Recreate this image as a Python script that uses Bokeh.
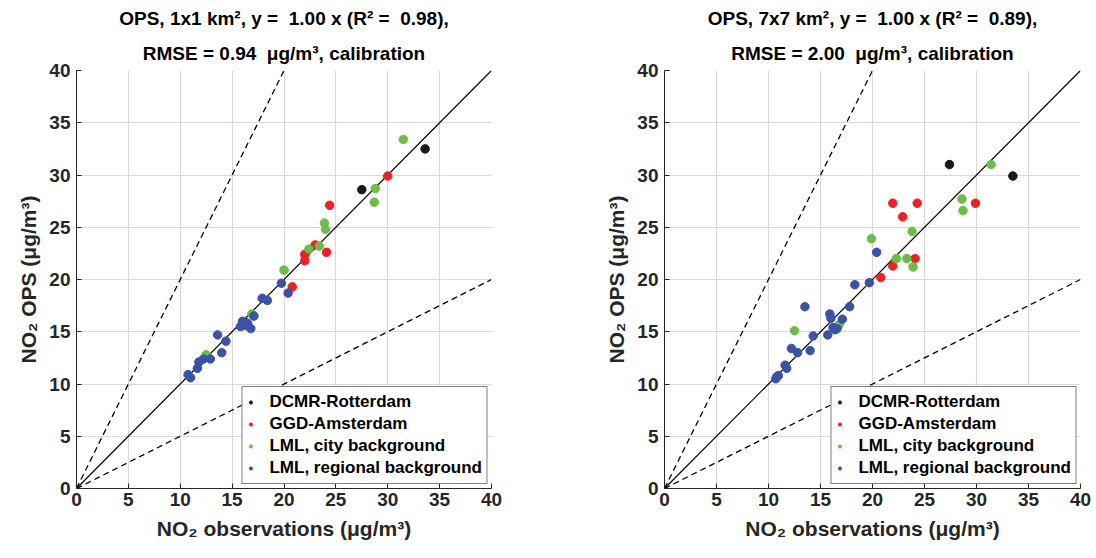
from bokeh.plotting import figure
from bokeh.models import Range1d, Title, Legend, LegendItem
from bokeh.layouts import row
from bokeh.embed import file_html
from bokeh.resources import INLINE

# ---------------- data ----------------
series_names = ["DCMR-Rotterdam", "GGD-Amsterdam", "LML, city background", "LML, regional background"]
series_colors = ["#1a1a1a", "#ed2024", "#6abd45", "#3a53a4"]

# Panel 1: OPS 1x1 km2
p1_dcmr_obs = [27.5, 33.6]
p1_dcmr_ops = [28.6, 32.5]
p1_ggd_obs = [20.8, 22.0, 22.0, 23.0, 24.1, 24.4, 30.0]
p1_ggd_ops = [19.3, 21.8, 22.4, 23.3, 22.6, 27.1, 29.9]
p1_city_obs = [12.5, 16.9, 20.0, 22.4, 23.4, 23.9, 24.0, 28.7, 28.8, 31.5]
p1_city_ops = [12.8, 16.7, 20.9, 22.9, 23.2, 25.4, 24.8, 27.4, 28.7, 33.4]
p1_reg_obs = [10.75, 11.0, 11.65, 11.8, 12.25, 12.9, 13.6, 14.0, 14.4, 15.8,
              16.0, 16.3, 16.3, 16.5, 16.8, 17.1, 17.9, 18.4, 19.75, 20.4]
p1_reg_ops = [10.9, 10.6, 11.5, 12.1, 12.4, 12.4, 14.7, 13.0, 14.1, 15.5,
              16.0, 15.9, 15.6, 15.8, 15.3, 16.5, 18.2, 18.0, 19.65, 18.7]

# Panel 2: OPS 7x7 km2
p2_dcmr_obs = [27.4, 33.5]
p2_dcmr_ops = [31.0, 29.9]
p2_ggd_obs = [20.8, 21.95, 21.95, 22.9, 24.1, 24.3, 29.9]
p2_ggd_ops = [20.2, 21.3, 27.3, 26.0, 22.0, 27.3, 27.3]
p2_city_obs = [12.5, 16.8, 19.9, 22.3, 23.3, 23.8, 23.9, 28.6, 28.7, 31.4]
p2_city_ops = [15.1, 15.7, 23.9, 22.0, 22.0, 24.6, 21.2, 27.7, 26.6, 31.0]
p2_reg_obs = [10.7, 10.8, 10.95, 11.6, 11.75, 12.2, 12.8, 13.5, 14.0, 14.3, 15.7,
              15.9, 16.0, 16.2, 16.4, 16.6, 17.1, 17.8, 18.3, 19.7, 20.4]
p2_reg_ops = [10.5, 10.7, 10.8, 11.8, 11.5, 13.4, 13.0, 17.4, 13.2, 14.6, 14.7,
              16.7, 16.3, 15.4, 15.2, 15.3, 16.2, 17.4, 19.5, 19.7, 22.6]

titles_1 = ["OPS, 1x1 km², y = \u00a01.00 x (R² = \u00a00.98),", "RMSE = 0.94 \u00a0μg/m³, calibration"]
titles_2 = ["OPS, 7x7 km², y = \u00a01.00 x (R² = \u00a00.89),", "RMSE = 2.00 \u00a0μg/m³, calibration"]

fit_slope = 1.00
band_factor = 2.0
axis_max = 40
ticks = [0, 5, 10, 15, 20, 25, 30, 35, 40]
xlabel = "NO₂ observations (μg/m³)"
ylabel = "NO₂ OPS (μg/m³)"

FONT = "Liberation Sans"
TXT = "#262626"
NAN = float("nan")


def make_panel(titles, data, width, bl, br):
    p = figure(width=width, height=558, x_range=Range1d(0, axis_max), y_range=Range1d(0, axis_max),
               output_backend="svg", toolbar_location=None,
               min_border_left=bl, min_border_right=br, min_border_top=10, min_border_bottom=70)
    p.outline_line_color = None
    p.background_fill_color = "white"
    p.border_fill_color = "white"

    # titles (second line added first so it sits closest to the plot)
    standoffs = [11, 13]
    for t, s in reversed(list(zip(titles, standoffs))):
        p.add_layout(Title(text=t, align="center", text_font=FONT, text_font_style="bold",
                           text_font_size="19px", text_color="#000000", standoff=s), "above")

    for ax in (p.xaxis, p.yaxis):
        ax.ticker = ticks
        ax.major_tick_in = 5
        ax.major_tick_out = 0
        ax.minor_tick_line_color = None
        ax.axis_line_color = TXT
        ax.major_tick_line_color = TXT
        ax.major_label_text_font = FONT
        ax.major_label_text_font_style = "bold"
        ax.major_label_text_font_size = "19px"
        ax.major_label_text_color = TXT
        ax.axis_label_text_font = FONT
        ax.axis_label_text_font_style = "bold"
        ax.axis_label_text_font_size = "21px"
        ax.axis_label_text_color = TXT
    p.xaxis.axis_label = xlabel
    p.yaxis.axis_label = ylabel
    p.xaxis.major_label_standoff = 4
    p.yaxis.major_label_standoff = 6
    p.xaxis.axis_label_standoff = 8
    p.yaxis.axis_label_standoff = 6

    p.grid.grid_line_color = "#d9d9d9"
    p.grid.grid_line_width = 1.2

    # reference lines
    p.line([0, axis_max / band_factor], [0, axis_max], line_color="black", line_dash="6 4", line_width=1.3)
    p.line([0, axis_max], [0, axis_max / band_factor], line_color="black", line_dash="6 4", line_width=1.3)
    p.line([0, axis_max], [0, axis_max * fit_slope], line_color="black", line_width=1.2)

    items = []
    for name, color, (xs, ys) in zip(series_names, series_colors, data):
        p.scatter(xs, ys, size=8.5, fill_color=color, line_color=color)
        dummy = p.scatter(x=[NAN], y=[NAN], size=5.5, fill_color=color, line_color=color)
        items.append(LegendItem(label=name, renderers=[dummy]))

    leg = Legend(items=items, location="bottom_right")
    leg.border_line_color = "black"
    leg.border_line_width = 1
    leg.label_text_font = FONT
    leg.label_text_font_style = "bold"
    leg.label_text_font_size = "17px"
    leg.label_text_color = "#000000"
    leg.glyph_width = 8
    leg.glyph_height = 16
    leg.label_standoff = 15
    leg.label_height = 22
    leg.spacing = 0
    leg.padding = 4
    leg.margin = 4
    leg.background_fill_alpha = 1
    p.add_layout(leg)
    return p


p1 = make_panel(titles_1, [(p1_dcmr_obs, p1_dcmr_ops), (p1_ggd_obs, p1_ggd_ops),
                           (p1_city_obs, p1_city_ops), (p1_reg_obs, p1_reg_ops)], 580, 76, 89)
p2 = make_panel(titles_2, [(p2_dcmr_obs, p2_dcmr_ops), (p2_ggd_obs, p2_ggd_ops),
                           (p2_city_obs, p2_city_ops), (p2_reg_obs, p2_reg_ops)], 512, 84, 12)

layout = row(p1, p2)
open("out.html", "w").write(file_html(layout, INLINE))
